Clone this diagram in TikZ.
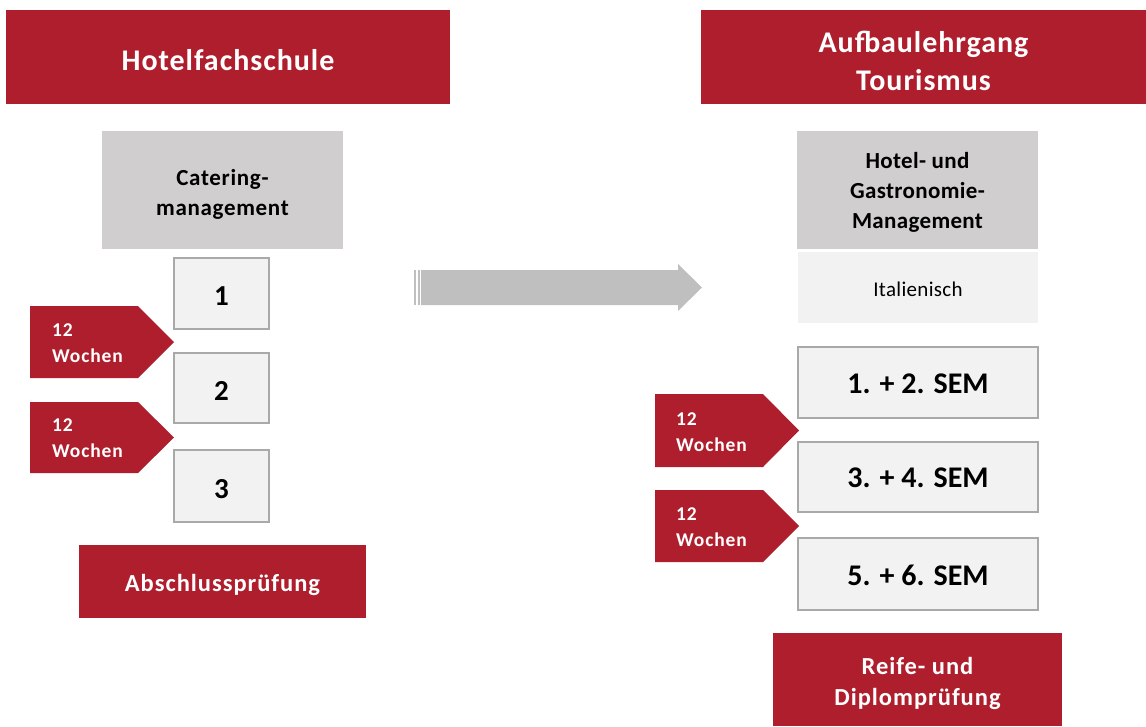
\documentclass[tikz,border=0pt]{standalone}
\usepackage{fontspec}
\setmainfont{Carlito}
\definecolor{dbred}{HTML}{AF1E2D}
\definecolor{headgray}{HTML}{D0CECE}
\definecolor{lightgray2}{HTML}{F2F2F2}
\definecolor{bordergray}{HTML}{A9A9A9}
\definecolor{arrowgray}{HTML}{BFBFBF}
\newcommand{\lsp}[1]{\addfontfeature{LetterSpace=#1}}
\begin{document}
\begin{tikzpicture}[x=1pt,y=-1pt,
  redfill/.style={fill=dbred,inner sep=0pt,anchor=center},
  headfill/.style={fill=headgray,inner sep=0pt},
  langfill/.style={fill=lightgray2,inner sep=0pt},
  numbox/.style={fill=lightgray2,draw=bordergray,line width=2pt,inner sep=0pt},
  whitetext/.style={text=white,align=center,inner sep=0pt},
  blacktext/.style={text=black,align=center,inner sep=0pt},
  titlefont/.style={font=\bfseries\fontsize{30}{38}\selectfont\lsp{3.2}},
  examfont/.style={font=\bfseries\fontsize{24.5}{31}\selectfont\lsp{4}},
  headfont/.style={font=\bfseries\fontsize{23}{30}\selectfont\lsp{#1}},
  langfont/.style={font=\fontsize{21}{26}\selectfont\lsp{1.5}},
  digitfont/.style={font=\bfseries\fontsize{29}{34}\selectfont},
  semfont/.style={font=\bfseries\fontsize{30}{36}\selectfont},
  tagtext/.style={text=white,font=\bfseries\fontsize{19.5}{26}\selectfont\lsp{4.5},align=left,anchor=west,inner sep=0pt},
  tagfill/.style={fill=dbred}
]
\useasboundingbox (0,0) rectangle (1146,726);

% top banners
\node[redfill,minimum width=444,minimum height=94] (hfs) at (228,57) {};
\node[whitetext,titlefont] (hfs-t) at ([yshift=-3pt]hfs.center) {Hotelfachschule};
\node[redfill,minimum width=445,minimum height=94] (aufb) at (923.5,57) {};
\node[whitetext,titlefont] (aufb-t) at ([yshift=-4pt]aufb.center) {Aufbaulehrgang\\Tourismus};

% heading boxes
\node[headfill,minimum width=241,minimum height=118] (cat) at (222.5,190) {};
\node[blacktext,headfont=3] (cat-t) at ([yshift=-4pt]cat.center) {Catering-\\management};
\node[headfill,minimum width=241,minimum height=118] (hgm) at (917.5,190) {};
\node[blacktext,headfont=1.5] (hgm-t) at ([yshift=-2.5pt]hgm.center) {Hotel- und\\Gastronomie-\\Management};
\node[langfill,minimum width=240,minimum height=71] (ital) at (918,287.5) {};
\node[blacktext,langfont] (ital-t) at ([yshift=-2pt]ital.center) {Italienisch};

% left number boxes
\node[numbox,minimum width=95,minimum height=71] (b1) at (221.5,293.5) {};
\node[blacktext,digitfont] (b1-t) at ([yshift=-3pt]b1.center) {1};
\node[numbox,minimum width=95,minimum height=70] (b2) at (221.5,388) {};
\node[blacktext,digitfont] (b2-t) at ([yshift=-2.5pt]b2.center) {2};
\node[numbox,minimum width=95,minimum height=72] (b3) at (221.5,486) {};
\node[blacktext,digitfont] (b3-t) at ([yshift=-3pt]b3.center) {3};

% right semester boxes
\node[numbox,minimum width=240,minimum height=71] (s1) at (918,382.5) {};
\node[blacktext,semfont] (s1-t) at ([yshift=-1pt]s1.center) {1. + 2. SEM};
\node[numbox,minimum width=240,minimum height=70] (s2) at (918,477) {};
\node[blacktext,semfont] (s2-t) at ([yshift=-1pt]s2.center) {3. + 4. SEM};
\node[numbox,minimum width=240,minimum height=72] (s3) at (918,574) {};
\node[blacktext,semfont] (s3-t) at ([yshift=-1pt]s3.center) {5. + 6. SEM};

% exam boxes
\node[redfill,minimum width=287,minimum height=73] (absch) at (222.5,581.5) {};
\node[whitetext,examfont] (absch-t) at ([yshift=-3.5pt]absch.center) {Abschlussprüfung};
\node[redfill,minimum width=289,minimum height=93] (reife) at (917.5,679.5) {};
\node[whitetext,examfont] (reife-t) at ([yshift=-4pt]reife.center) {Reife- und\\Diplomprüfung};

% tags left
\fill[tagfill] (30,306) -- (138,306) -- (174,342) -- (138,378) -- (30,378) -- cycle;
\node[tagtext] (tl1) at (52,343.5) {12\\Wochen};
\fill[tagfill] (30,402) -- (138,402) -- (174,437.5) -- (138,473) -- (30,473) -- cycle;
\node[tagtext] (tl2) at (52,438.5) {12\\Wochen};

% tags right
\fill[tagfill] (655,394) -- (763,394) -- (799,430.5) -- (763,467) -- (655,467) -- cycle;
\node[tagtext] (tr1) at (676,432.5) {12\\Wochen};
\fill[tagfill] (655,490) -- (763,490) -- (799,526) -- (763,562) -- (655,562) -- cycle;
\node[tagtext] (tr2) at (676,527.5) {12\\Wochen};

% big arrow
\fill[arrowgray] (414,270) rectangle (416,305);
\fill[arrowgray] (418,270) rectangle (420,305);
\fill[arrowgray] (421,270) -- (678,270) -- (678,264) -- (702,287.5) -- (678,311) -- (678,305) -- (421,305) -- cycle;
\end{tikzpicture}
\end{document}
